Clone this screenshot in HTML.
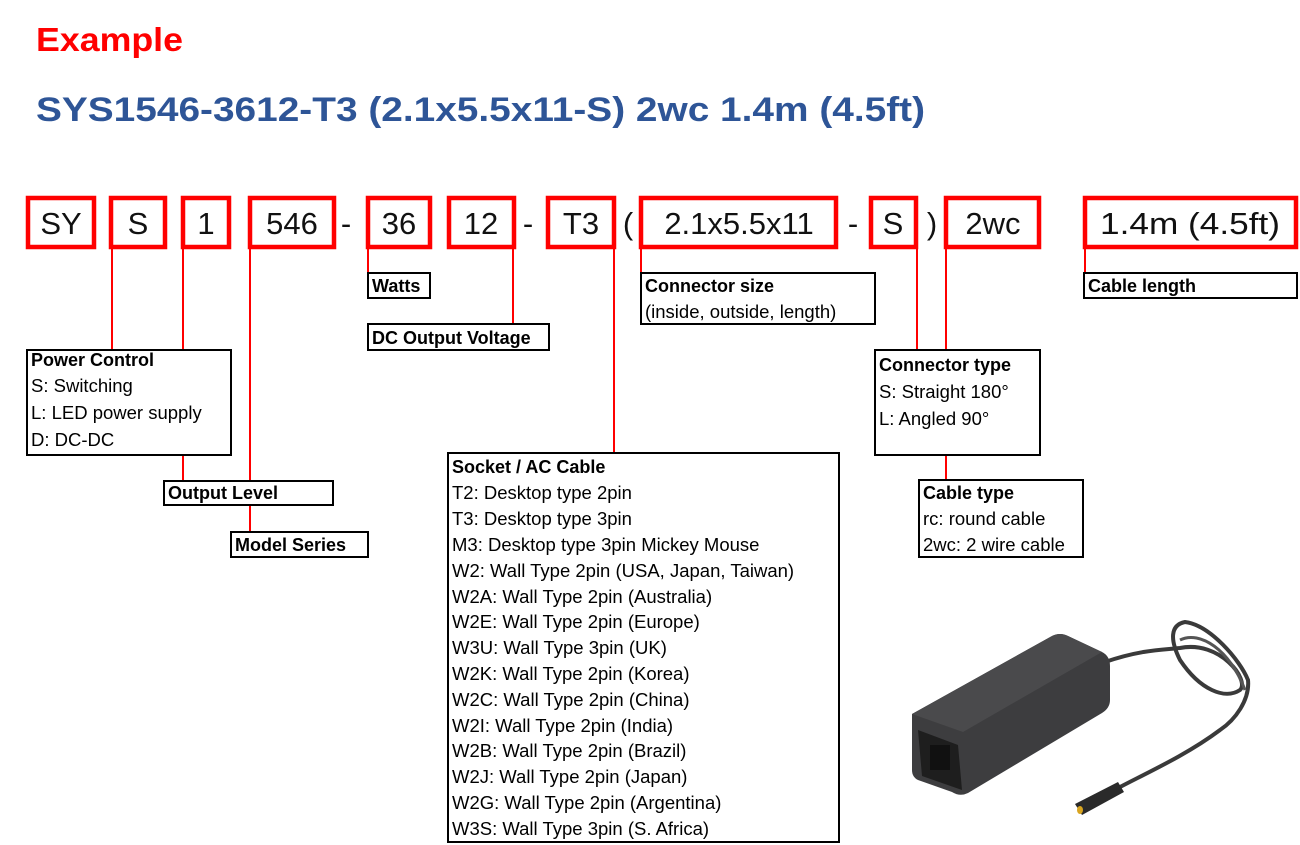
<!DOCTYPE html>
<html><head><meta charset="utf-8"><style>
html,body{margin:0;padding:0;background:#fff;}
svg{display:block;font-family:"Liberation Sans",sans-serif;}
.rb{fill:none;stroke:#f00;stroke-width:4.5}
.bb{fill:#fff;stroke:#000;stroke-width:2}
.rl{stroke:#f00;stroke-width:2}
.big{font-size:31px;fill:#111;text-anchor:middle}
.h{font-size:18px;font-weight:bold;fill:#000}
.t{font-size:18.5px;fill:#000}
</style></head><body>
<svg width="1300" height="845" viewBox="0 0 1300 845">
<text x="36" y="51" font-size="33" font-weight="bold" fill="#f00" textLength="147" lengthAdjust="spacingAndGlyphs">Example</text>
<text x="36" y="121" font-size="34" font-weight="bold" fill="#2e5597" textLength="889" lengthAdjust="spacingAndGlyphs">SYS1546-3612-T3 (2.1x5.5x11-S) 2wc 1.4m (4.5ft)</text>

<line class="rl" x1="112" y1="248" x2="112" y2="350"/>
<line class="rl" x1="183" y1="248" x2="183" y2="481"/>
<line class="rl" x1="250" y1="248" x2="250" y2="532"/>
<line class="rl" x1="368" y1="248" x2="368" y2="272"/>
<line class="rl" x1="513" y1="248" x2="513" y2="324"/>
<line class="rl" x1="614" y1="248" x2="614" y2="453"/>
<line class="rl" x1="641" y1="248" x2="641" y2="272"/>
<line class="rl" x1="917" y1="248" x2="917" y2="350"/>
<line class="rl" x1="946" y1="248" x2="946" y2="480"/>
<line class="rl" x1="1085" y1="248" x2="1085" y2="272"/>

<rect class="rb" x="28" y="198" width="66" height="49"/>
<rect class="rb" x="111" y="198" width="54" height="49"/>
<rect class="rb" x="183" y="198" width="46" height="49"/>
<rect class="rb" x="250" y="198" width="84" height="49"/>
<rect class="rb" x="368" y="198" width="62" height="49"/>
<rect class="rb" x="449" y="198" width="65" height="49"/>
<rect class="rb" x="548" y="198" width="66" height="49"/>
<rect class="rb" x="641" y="198" width="195" height="49"/>
<rect class="rb" x="871" y="198" width="45" height="49"/>
<rect class="rb" x="946" y="198" width="93" height="49"/>
<rect class="rb" x="1085" y="198" width="211" height="49"/>
<g class="big">
<text x="61" y="234">SY</text>
<text x="138" y="234">S</text>
<text x="206" y="234">1</text>
<text x="292" y="234">546</text>
<text x="346" y="234">-</text>
<text x="399" y="234">36</text>
<text x="481" y="234">12</text>
<text x="528" y="234">-</text>
<text x="581" y="234">T3</text>
<text x="628" y="234">(</text>
<text x="739" y="234">2.1x5.5x11</text>
<text x="853" y="234">-</text>
<text x="893" y="234">S</text>
<text x="932" y="234">)</text>
<text x="993" y="234">2wc</text>
<text x="1190" y="234" textLength="180" lengthAdjust="spacingAndGlyphs">1.4m (4.5ft)</text>
</g>

<rect class="bb" x="27" y="350" width="204" height="105"/>
<text class="h" x="31" y="366">Power Control</text>
<text class="t" x="31" y="392">S: Switching</text>
<text class="t" x="31" y="419">L: LED power supply</text>
<text class="t" x="31" y="446">D: DC-DC</text>

<rect class="bb" x="164" y="481" width="169" height="24"/>
<text class="h" x="168" y="499">Output Level</text>
<rect class="bb" x="231" y="532" width="137" height="25"/>
<text class="h" x="235" y="551">Model Series</text>

<rect class="bb" x="368" y="273" width="62" height="25"/>
<text class="h" x="372" y="292">Watts</text>
<rect class="bb" x="368" y="324" width="181" height="26"/>
<text class="h" x="372" y="344">DC Output Voltage</text>

<rect class="bb" x="641" y="273" width="234" height="51"/>
<text class="h" x="645" y="292">Connector size</text>
<text class="t" x="645" y="318">(inside, outside, length)</text>

<rect class="bb" x="1084" y="273" width="213" height="25"/>
<text class="h" x="1088" y="292">Cable length</text>

<rect class="bb" x="875" y="350" width="165" height="105"/>
<text class="h" x="879" y="371">Connector type</text>
<text class="t" x="879" y="398">S: Straight 180°</text>
<text class="t" x="879" y="425">L: Angled 90°</text>

<rect class="bb" x="919" y="480" width="164" height="77"/>
<text class="h" x="923" y="499">Cable type</text>
<text class="t" x="923" y="525">rc: round cable</text>
<text class="t" x="923" y="551">2wc: 2 wire cable</text>

<rect class="bb" x="448" y="453" width="391" height="389"/>
<text class="h" x="452" y="473">Socket / AC Cable</text>
<g class="t">
<text x="452" y="499">T2: Desktop type 2pin</text>
<text x="452" y="525">T3: Desktop type 3pin</text>
<text x="452" y="551">M3: Desktop type 3pin Mickey Mouse</text>
<text x="452" y="577">W2: Wall Type 2pin (USA, Japan, Taiwan)</text>
<text x="452" y="603">W2A: Wall Type 2pin (Australia)</text>
<text x="452" y="628">W2E: Wall Type 2pin (Europe)</text>
<text x="452" y="654">W3U: Wall Type 3pin (UK)</text>
<text x="452" y="680">W2K: Wall Type 2pin (Korea)</text>
<text x="452" y="706">W2C: Wall Type 2pin (China)</text>
<text x="452" y="732">W2I: Wall Type 2pin (India)</text>
<text x="452" y="757">W2B: Wall Type 2pin (Brazil)</text>
<text x="452" y="783">W2J: Wall Type 2pin (Japan)</text>
<text x="452" y="809">W2G: Wall Type 2pin (Argentina)</text>
<text x="452" y="835">W3S: Wall Type 3pin (S. Africa)</text>
</g>

<g>
<path d="M1105,662 C1140,650 1160,650 1180,648 C1220,640 1250,680 1240,690 C1225,700 1200,690 1180,660 C1170,640 1170,625 1185,622 C1210,625 1240,660 1248,680 C1250,700 1235,720 1220,730 C1180,760 1130,780 1100,798" fill="none" stroke="#3a3a3a" stroke-width="4"/>
<path d="M1180,640 C1200,630 1230,650 1245,690" fill="none" stroke="#555" stroke-width="3"/>
<path d="M1075,804 L1118,782 L1124,792 L1082,815 Z" fill="#2a2a2a"/>
<ellipse cx="1080" cy="810" rx="3" ry="4" fill="#d9a520"/>
<path d="M912,714 L1052,636 Q1060,632 1068,636 L1102,652 Q1110,656 1110,666 L1110,700 Q1110,708 1102,713 L968,793 Q960,797 952,792 L918,780 Q912,777 912,770 Z" fill="#3d3d3f"/>
<path d="M912,714 L1052,636 Q1060,632 1068,636 L1102,652 L963,732 Z" fill="#4a4a4c"/>
<path d="M918,730 L958,745 L962,790 L922,776 Z" fill="#1e1e1e"/>
<rect x="930" y="745" width="20" height="25" fill="#111"/>
</g>
</svg>
</body></html>
